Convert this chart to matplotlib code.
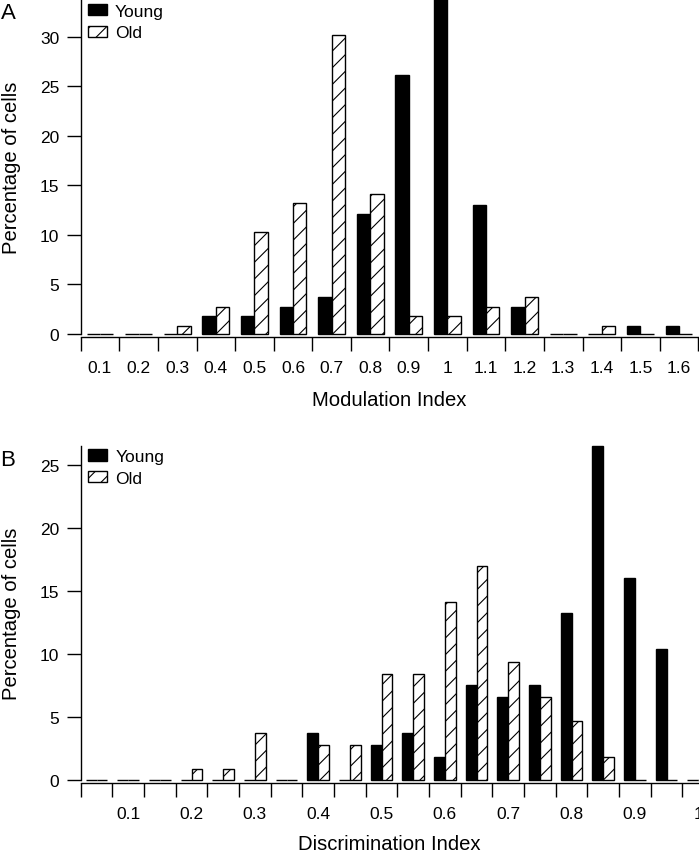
import matplotlib
matplotlib.use("Agg")
import matplotlib.pyplot as plt
import numpy as np

plt.rcParams['font.family'] = ['Liberation Sans', 'DejaVu Sans']
plt.rcParams['hatch.linewidth'] = 0.8

# ---------------- Data ----------------
# Panel A: Modulation Index
mod_labels = ["0.1", "0.2", "0.3", "0.4", "0.5", "0.6", "0.7", "0.8",
              "0.9", "1", "1.1", "1.2", "1.3", "1.4", "1.5", "1.6"]
mod_young = [0, 0, 0, 1.8, 1.8, 2.7, 3.7, 12.1, 26.1, 33.8, 13.0, 2.7, 0, 0, 0.85, 0.85]
mod_old = [0, 0, 0.85, 2.7, 10.3, 13.2, 30.2, 14.1, 1.8, 1.8, 2.7, 3.7, 0, 0.85, 0, 0]

# Panel B: Discrimination Index (bins of 0.05)
disc_bins = ["0.05", "0.1", "0.15", "0.2", "0.25", "0.3", "0.35", "0.4", "0.45", "0.5",
             "0.55", "0.6", "0.65", "0.7", "0.75", "0.8", "0.85", "0.9", "0.95", "1"]
disc_labels = ["0.1", "0.2", "0.3", "0.4", "0.5", "0.6", "0.7", "0.8", "0.9", "1"]
disc_young = [0, 0, 0, 0, 0, 0, 0, 3.7, 0, 2.8, 3.7, 1.8, 7.5, 6.55, 7.5, 13.2, 26.45, 16.0, 10.35, 0]
disc_old = [0, 0, 0, 0.87, 0.87, 3.7, 0, 2.77, 2.77, 8.4, 8.4, 14.1, 16.95, 9.35, 6.55, 4.65, 1.82, 0, 0, 0]

W, H = 699, 853
fig = plt.figure(figsize=(W / 100, H / 100), dpi=100)

def px_axes(left, top, width, height):
    return fig.add_axes([left / W, 1 - (top + height) / H, width / W, height / H])

TICK_FS = 12.5
LABEL_FS = 14.6
LEG_FS = 12.6
bw = 0.345


def style(ax, n, labels_idx, labels, ymax, yticks):
    ax.set_xlim(-0.5, n - 0.5)
    ax.set_ylim(0, ymax)
    for s in ['top', 'right']:
        ax.spines[s].set_visible(False)
    ax.spines['bottom'].set_position(('outward', 2))
    for s in ['left', 'bottom']:
        ax.spines[s].set_linewidth(1.0)
    ax.set_xticks(np.arange(n + 1) - 0.5)
    ax.set_xticklabels([])
    ax.set_xticks(labels_idx, minor=True)
    ax.set_xticklabels(labels, minor=True, fontsize=TICK_FS)
    ax.tick_params(axis='x', which='major', direction='out', length=10, width=1.0)
    ax.tick_params(axis='x', which='minor', length=0, pad=16.5)
    ax.set_yticks(yticks)
    ax.set_yticklabels([str(v) for v in yticks], fontsize=TICK_FS)
    ax.tick_params(axis='y', direction='out', length=10, width=1.0, pad=5.5)


def draw(ax, young, old):
    x = np.arange(len(young))
    ax.bar(x - bw / 2, young, bw, color='black', edgecolor='black', linewidth=1.0,
           label='Young', clip_on=False)
    ax.bar(x + bw / 2, old, bw, color='white', edgecolor='black', linewidth=1.0,
           hatch='//', label='Old', clip_on=False)


leg_kw = dict(loc='upper left', frameon=False, fontsize=LEG_FS,
              handlelength=1.06, handleheight=0.62, handletextpad=0.48, labelspacing=0.38,
              borderpad=0, borderaxespad=0)

# Panel A
axA = px_axes(80.7, 0, 617.6, 335)
draw(axA, mod_young, mod_old)
style(axA, len(mod_labels), np.arange(len(mod_labels)), mod_labels, 33.8, [0, 5, 10, 15, 20, 25, 30])
axA.set_xlabel("Modulation Index", fontsize=LABEL_FS)
axA.xaxis.set_label_coords(0.5, -0.167)
axA.xaxis.label.set_va('top')
axA.set_ylabel("Percentage of cells", fontsize=LABEL_FS)
axA.yaxis.set_label_coords(-0.096, 0.5)
axA.legend(bbox_to_anchor=(0.012, 0.986), **leg_kw)

# Panel B
axB = px_axes(80.7, 447.3, 633.3, 333.7)
draw(axB, disc_young, disc_old)
style(axB, len(disc_bins), np.arange(1, len(disc_bins), 2), disc_labels, 26.45, [0, 5, 10, 15, 20, 25])
axB.set_xlabel("Discrimination Index", fontsize=LABEL_FS)
axB.xaxis.set_label_coords(0.487, -0.163)
axB.xaxis.label.set_va('top')
axB.set_ylabel("Percentage of cells", fontsize=LABEL_FS)
axB.yaxis.set_label_coords(-0.0937, 0.5)
axB.legend(bbox_to_anchor=(0.012, 0.991), **leg_kw)

fig.text(1 / W, 1 - 3 / H, "A", fontsize=16, va='top', ha='left')
fig.text(0 / W, 1 - 450.5 / H, "B", fontsize=16, va='top', ha='left')

fig.savefig("out.png", dpi=100)
